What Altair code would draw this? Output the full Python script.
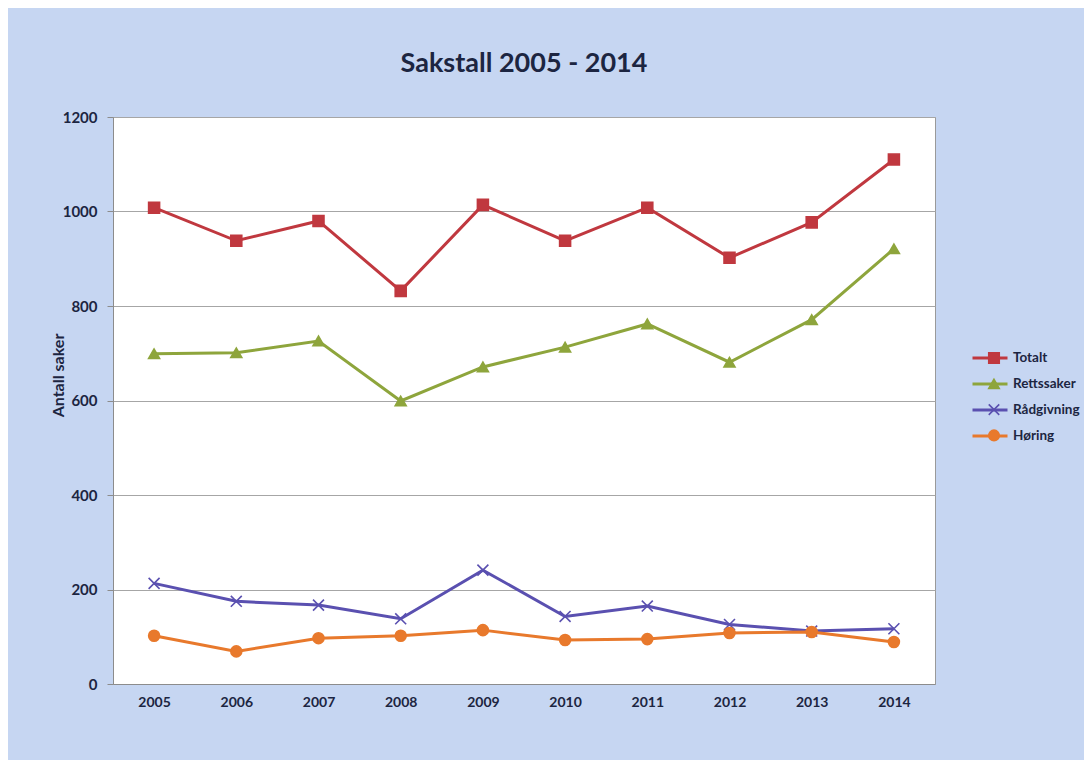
import altair as alt
import pandas as pd

years = ["2005", "2006", "2007", "2008", "2009", "2010", "2011", "2012", "2013", "2014"]
series = ["Totalt", "Rettssaker", "Rådgivning", "Høring"]
totalt = [1008, 938, 980, 832, 1014, 938, 1008, 902, 977, 1110]
rettssaker = [699, 701, 726, 599, 671, 713, 762, 681, 771, 921]
radgivning = [213, 175, 167, 138, 241, 143, 165, 126, 112, 117]
horing = [102, 69, 97, 102, 114, 93, 95, 108, 110, 89]

colors = ["#c0383f", "#8ea53c", "#5a50b0", "#e8792c"]
shapes = ["square", "triangle-up", "M-1,-1L1,1M-1,1L1,-1", "circle"]

rows = []
for name, vals in zip(series, [totalt, rettssaker, radgivning, horing]):
    for y, v in zip(years, vals):
        rows.append({"År": y, "Serie": name, "Markør": name, "Antall": v})
df = pd.DataFrame(rows)

FONT = "Lato"
TXT = "#1c2541"

x = alt.X("År:O", scale=alt.Scale(type="point", padding=0.5),
          axis=alt.Axis(title=None, labelAngle=0, ticks=False, labelPadding=11,
                        labelFontSize=14, labelFont=FONT, labelFontWeight="bold",
                        labelColor=TXT, domainColor="#8c8c8c", grid=False))
y = alt.Y("Antall:Q", scale=alt.Scale(domain=[0, 1200], nice=False),
          axis=alt.Axis(title="Antall saker", values=[0, 200, 400, 600, 800, 1000, 1200],
                        format="d",
                        labelFontSize=15, labelFont=FONT, labelFontWeight="bold",
                        labelColor=TXT, tickSize=6, tickColor="#8c8c8c", labelPadding=10,
                        domainColor="#8c8c8c", gridColor="#a6a6a6", gridWidth=1,
                        titleFont=FONT, titleFontSize=16, titleFontWeight="bold",
                        titleColor=TXT, titleX=-47, titleY=258))

lines = alt.Chart(df).mark_line(strokeWidth=3).encode(
    x=x, y=y,
    color=alt.Color("Serie:N", scale=alt.Scale(range=colors),
                    sort=series,
                    legend=alt.Legend(title=None, orient="none", legendX=858, legendY=222,
                                      symbolType="stroke", symbolSize=1225,
                                      symbolStrokeWidth=3, rowPadding=-14,
                                      labelFont=FONT, labelFontSize=13.5,
                                      labelFontWeight="bold", labelColor=TXT,
                                      labelOffset=4)),
)

pt_legend = alt.Legend(title=None, orient="none", legendX=871, legendY=231,
                       symbolSize=110, symbolStrokeWidth=1.6,
                       rowPadding=5.8, labelExpr="' '",
                       labelFont=FONT, labelFontSize=20)

points = alt.Chart(df).mark_point(filled=True, opacity=1, strokeWidth=1.6, size=120).encode(
    x=x, y=y,
    fill=alt.Fill("Markør:N", scale=alt.Scale(domain=series, range=colors), sort=series,
                  legend=pt_legend),
    stroke=alt.Stroke("Markør:N", scale=alt.Scale(domain=series, range=colors), sort=series,
                      legend=pt_legend),
    shape=alt.Shape("Markør:N", scale=alt.Scale(domain=series, range=shapes), sort=series,
                    legend=pt_legend),
)

chart = alt.layer(lines, points).properties(
    width=822, height=567,
    title=alt.Title("Sakstall 2005 - 2014", font=FONT, fontSize=27, fontWeight="bold",
                    color=TXT, anchor="middle", offset=32),
    autosize=alt.AutoSizeParams(type="none"),
    padding={"left": 105, "top": 109, "right": 149, "bottom": 76},
    background="#c6d6f2",
).configure_view(fill="white", stroke="#9a9a9a", strokeWidth=1)

chart.save("out.html", embed_options={"renderer": "svg", "actions": False})
